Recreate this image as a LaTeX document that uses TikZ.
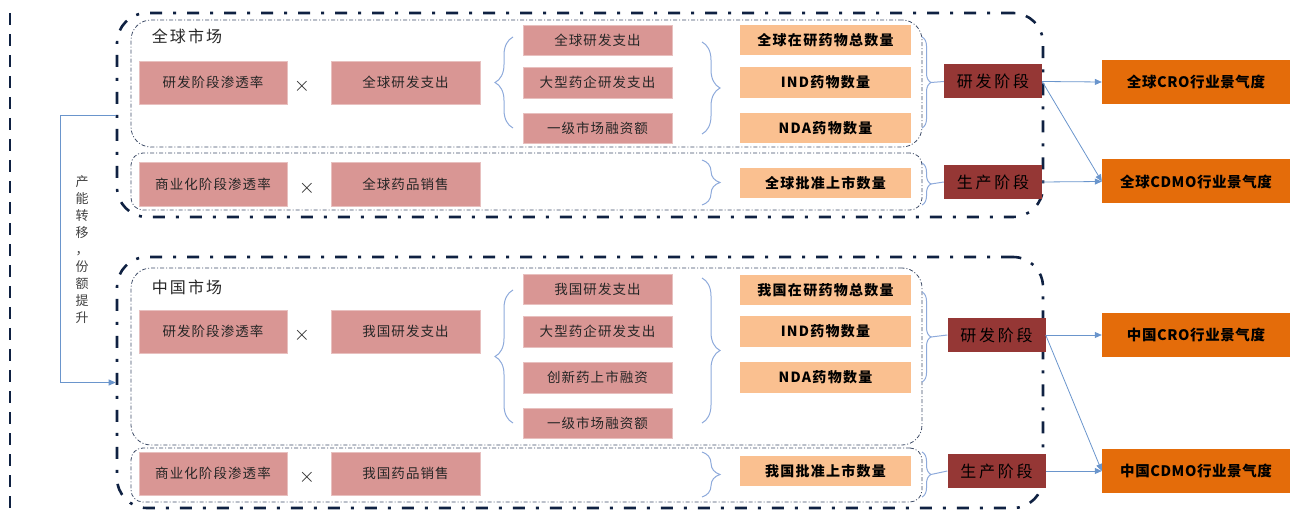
\documentclass[tikz,border=0pt]{standalone}
\usepackage{fontspec}
\setmainfont{Noto Sans CJK SC}
\usetikzlibrary{arrows.meta,decorations.pathreplacing}

\definecolor{pinkf}{HTML}{D99694}
\definecolor{orangel}{HTML}{FAC090}
\definecolor{darkred}{HTML}{953735}
\definecolor{orangem}{HTML}{E46C0A}
\definecolor{navy}{HTML}{0F2142}
\definecolor{linkblue}{HTML}{6A95CC}
\definecolor{bracecol}{HTML}{8EAADB}
\definecolor{vtext}{HTML}{404040}

\begin{document}
\begin{tikzpicture}[x=1pt,y=-1pt,
  pinkbox/.style={rectangle, inner sep=0pt, fill=pinkf, draw=pinkf!60!white, line width=0.5pt,
    text=black!85, font=\fontsize{13.5pt}{15pt}\selectfont\addfontfeature{LetterSpace=8}},
  orbox/.style={rectangle, inner sep=0pt, fill=orangel, minimum width=171pt,
    text=black, font=\fontsize{14pt}{16pt}\selectfont\bfseries\addfontfeature{LetterSpace=9}},
  stagebox/.style={rectangle, inner sep=0pt, fill=darkred, minimum width=98pt, minimum height=34pt,
    text=black, font=\fontsize{16pt}{18pt}\selectfont\addfontfeature{LetterSpace=17}},
  resultbox/.style={rectangle, inner sep=0pt, fill=orangem, minimum width=188pt, minimum height=44pt,
    text=black, font=\fontsize{14.5pt}{16pt}\selectfont\bfseries\addfontfeature{LetterSpace=4}},
  timesmark/.style={inner sep=0pt, text=black!85, font=\fontsize{20pt}{22pt}\selectfont},
  marketlabel/.style={inner sep=0pt, text=black!85, font=\fontsize{16pt}{18pt}\selectfont\addfontfeature{LetterSpace=13}},
  outerframe/.style={rectangle, draw=navy, line width=2.6pt, rounded corners=30pt,
    dash pattern=on 12pt off 11pt on 3pt off 11pt},
  innerframe/.style={rectangle, draw=navy!80, line width=0.8pt,
    dash pattern=on 4pt off 2pt on 1pt off 2pt},
  bracebig/.style={draw=bracecol, line width=1pt, decorate, decoration={brace, amplitude=18pt}},
  bracesmall/.style={draw=bracecol, line width=1pt, decorate, decoration={brace, amplitude=9pt}},
  link/.style={draw=linkblue, line width=0.8pt, -{Triangle[length=7pt,width=6pt]}},
]
\useasboundingbox (0,0) rectangle (1290,510);

% left dashed rule
\coordinate (rtop) at (10,13);
\coordinate (rbot) at (10,510);
\draw[navy, line width=2.6pt, dash pattern=on 12pt off 9pt] (rtop) -- (rbot);

% ===================== global market =====================
\node[outerframe, minimum width=926pt, minimum height=204pt] (gouter) at (580,115) {};
\node[innerframe, rounded corners=20pt, minimum width=791pt, minimum height=127pt] (gin1) at (526.5,83.5) {};
\node[innerframe, rounded corners=12pt, minimum width=791pt, minimum height=57pt] (gin2) at (526.5,181.5) {};
\node[marketlabel] (glabel) at (187,36) {全球市场};

\node[pinkbox, minimum width=148pt, minimum height=43pt] (gp1) at (213,82.5) {研发阶段渗透率};
\node[timesmark] (gx1) at (302,86) {$\times$};
\node[pinkbox, minimum width=149pt, minimum height=43pt] (gp2) at (405.5,82.5) {全球研发支出};

\node[pinkbox, minimum width=149pt, minimum height=30pt] (gs1) at (597.5,40) {全球研发支出};
\node[pinkbox, minimum width=149pt, minimum height=31pt] (gs2) at (597.5,82.5) {大型药企研发支出};
\node[pinkbox, minimum width=149pt, minimum height=30pt] (gs3) at (597.5,128) {一级市场融资额};

\node[orbox, minimum height=30pt] (go1) at (825.5,40) {全球在研药物总数量};
\node[orbox, minimum height=31pt] (go2) at (825.5,82.5) {IND药物数量};
\node[orbox, minimum height=30pt] (go3) at (825.5,128) {NDA药物数量};

\node[pinkbox, minimum width=148pt, minimum height=44pt] (gq1) at (213,184) {商业化阶段渗透率};
\node[timesmark] (gx2) at (307,188) {$\times$};
\node[pinkbox, minimum width=149pt, minimum height=44pt] (gq2) at (405.5,184) {全球药品销售};
\node[orbox, minimum height=30pt] (go4) at (825.5,183) {全球批准上市数量};

\node[stagebox] (gd1) at (993,81.5) {研发阶段};
\node[stagebox] (gd2) at (993,182) {生产阶段};
\node[resultbox] (gc1) at (1196,82) {全球CRO行业景气度};
\node[resultbox] (gc2) at (1196,181.5) {全球CDMO行业景气度};

% braces of the global market
\coordinate (gb1a) at (513,128); \coordinate (gb1b) at (513,37);
\draw[bracebig] (gb1a) -- (gb1b);
\coordinate (gb2a) at (702,42);  \coordinate (gb2b) at (702,134);
\draw[bracebig] (gb2a) -- (gb2b);
\coordinate (gb3a) at (922,37);  \coordinate (gb3b) at (922,128);
\draw[bracesmall] (gb3a) -- (gb3b);
\coordinate (gb3t) at (931,82.5);
\draw[bracecol, line width=1pt] (gb3t) -- (gd1.west);
\coordinate (gb4a) at (702,160); \coordinate (gb4b) at (702,205);
\draw[bracebig] (gb4a) -- (gb4b);
\coordinate (gb5a) at (922,163); \coordinate (gb5b) at (922,205);
\draw[bracesmall] (gb5a) -- (gb5b);
\coordinate (gb5t) at (931,184);
\draw[bracecol, line width=1pt] (gb5t) -- (gd2.west);

\draw[link] (gd1.east) -- (gc1.west);
\draw[link] (gd1.east) -- (gc2.west);
\draw[link] (gd2.east) -- (gc2.west);

% ===================== China market =====================
\node[outerframe, minimum width=926pt, minimum height=251pt] (couter) at (580,382.5) {};
\node[innerframe, rounded corners=20pt, minimum width=791pt, minimum height=177pt] (cin1) at (526.5,356.5) {};
\node[innerframe, rounded corners=12pt, minimum width=791pt, minimum height=54pt] (cin2) at (526.5,475) {};
\node[marketlabel] (clabel) at (187,287) {中国市场};

\node[pinkbox, minimum width=148pt, minimum height=43pt] (cp1) at (213,331.5) {研发阶段渗透率};
\node[timesmark] (cx1) at (302,335) {$\times$};
\node[pinkbox, minimum width=149pt, minimum height=43pt] (cp2) at (405.5,331.5) {我国研发支出};

\node[pinkbox, minimum width=149pt, minimum height=30pt] (cs1) at (597.5,289) {我国研发支出};
\node[pinkbox, minimum width=149pt, minimum height=31pt] (cs2) at (597.5,331.5) {大型药企研发支出};
\node[pinkbox, minimum width=149pt, minimum height=31pt] (cs3) at (597.5,377.5) {创新药上市融资};
\node[pinkbox, minimum width=149pt, minimum height=30pt] (cs4) at (597.5,423) {一级市场融资额};

\node[orbox, minimum height=30pt] (co1) at (825.5,290) {我国在研药物总数量};
\node[orbox, minimum height=31pt] (co2) at (825.5,331.5) {IND药物数量};
\node[orbox, minimum height=31pt] (co3) at (825.5,377.5) {NDA药物数量};

\node[pinkbox, minimum width=148pt, minimum height=43pt] (cq1) at (213,473.5) {商业化阶段渗透率};
\node[timesmark] (cx2) at (307,477) {$\times$};
\node[pinkbox, minimum width=149pt, minimum height=43pt] (cq2) at (405.5,473.5) {我国药品销售};
\node[orbox, minimum height=30pt] (co4) at (825.5,471) {我国批准上市数量};

\node[stagebox] (cd1) at (996.5,335) {研发阶段};
\node[stagebox] (cd2) at (996.5,471) {生产阶段};
\node[resultbox] (cc1) at (1196,335) {中国CRO行业景气度};
\node[resultbox] (cc2) at (1196,471) {中国CDMO行业景气度};

% braces of the China market
\coordinate (cb1a) at (513,423); \coordinate (cb1b) at (513,290);
\draw[bracebig] (cb1a) -- (cb1b);
\coordinate (cb2a) at (702,278); \coordinate (cb2b) at (702,423);
\draw[bracebig] (cb2a) -- (cb2b);
\coordinate (cb3a) at (922,292); \coordinate (cb3b) at (922,382);
\draw[bracesmall] (cb3a) -- (cb3b);
\coordinate (cb3t) at (931,337);
\draw[bracecol, line width=1pt] (cb3t) -- (cd1.west);
\coordinate (cb4a) at (702,452); \coordinate (cb4b) at (702,497);
\draw[bracebig] (cb4a) -- (cb4b);
\coordinate (cb5a) at (922,452); \coordinate (cb5b) at (922,497);
\draw[bracesmall] (cb5a) -- (cb5b);
\coordinate (cb5t) at (931,474.5);
\draw[bracecol, line width=1pt] (cb5t) -- (cd2.west);

\draw[link] (cd1.east) -- (cc1.west);
\draw[link] (cd1.east) -- (cc2.west);
\draw[link] (cd2.east) -- (cc2.west);

% capacity shift from the global to the China market
\draw[link] (gouter.west) -- ++(-55,0) |- (couter.west);
\node[inner sep=0pt, align=center, text=vtext,
      font=\fontsize{13pt}{17pt}\selectfont] (shift) at (82,250)
  {产\\能\\转\\移\\，\\份\\额\\提\\升};
\end{tikzpicture}
\end{document}
